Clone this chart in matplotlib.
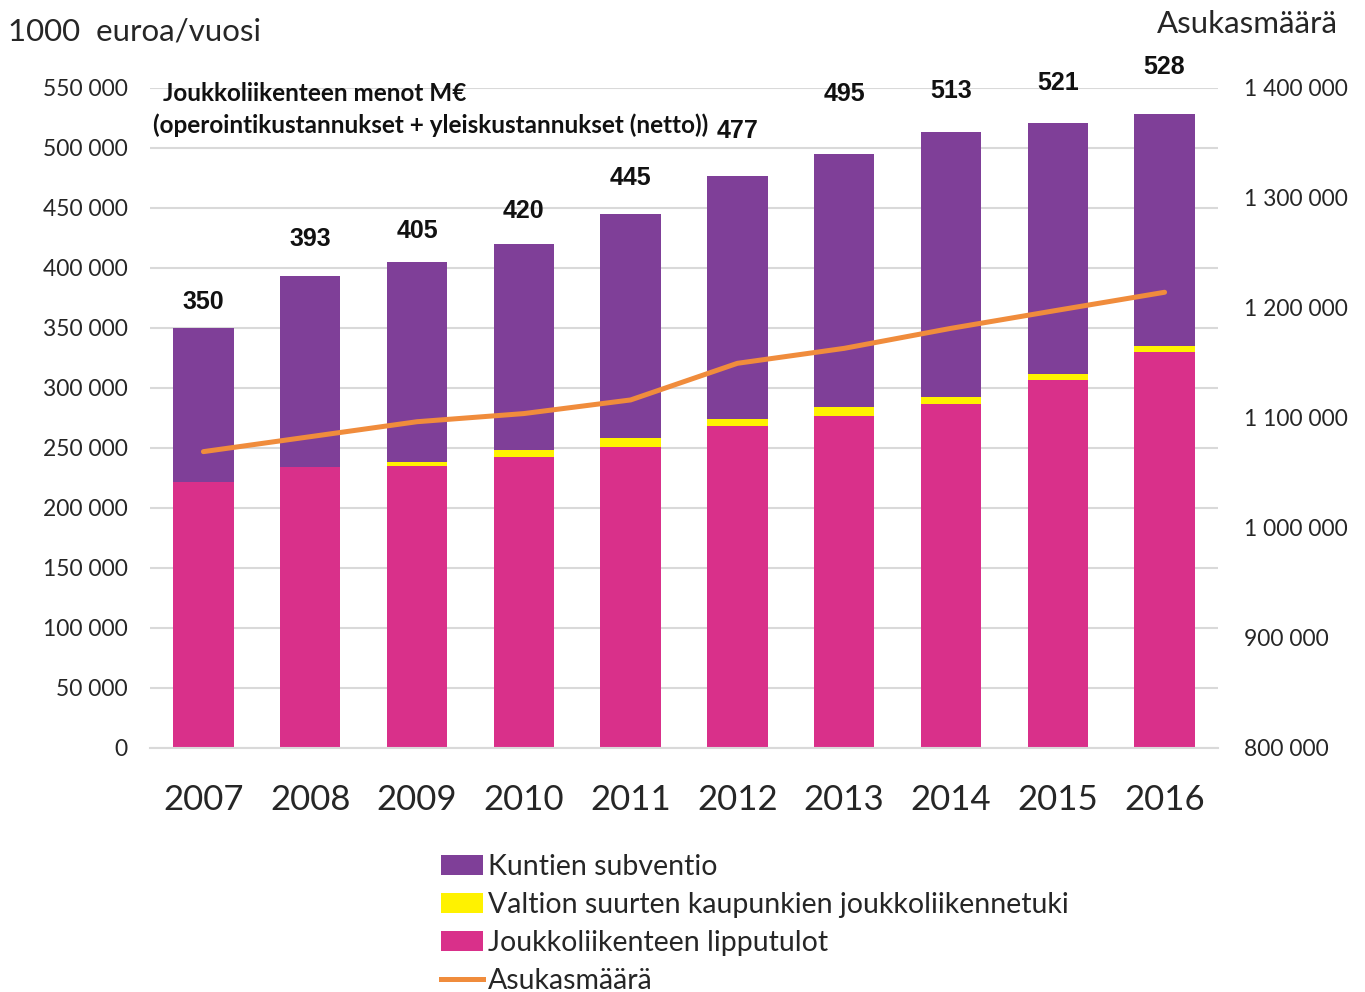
import numpy as np
import matplotlib
matplotlib.use("Agg")
import matplotlib.pyplot as plt
from matplotlib.patches import Patch
from matplotlib.lines import Line2D
from matplotlib.ticker import FuncFormatter

# Datos (1000 euroa/vuosi)
vuodet = ['2007', '2008', '2009', '2010', '2011', '2012', '2013', '2014', '2015', '2016']
yhteensa = [350, 393, 405, 420, 445, 477, 495, 513, 521, 528]
lipputulot = [222000, 234400, 235300, 242800, 251000, 268600, 276900, 286700, 306700, 330300]
valtion_tuki = [0, 0, 3300, 5500, 7000, 5600, 7000, 6100, 4700, 4700]
asukasmaara = [1069400, 1083000, 1096600, 1104000, 1116400, 1149700, 1163300, 1181500, 1198000, 1214300]

# label offsets above bar top, in points
label_dy = [19, 27, 22, 24, 26, 32, 43, 30, 29, 34]

kunnat = [t * 1000 - p - v for t, p, v in zip(yhteensa, lipputulot, valtion_tuki)]

PURPLE = '#7f3f98'
PINK = '#d9308a'
YELLOW = '#fff200'
ORANGE = '#f08c3c'
GRID = '#d9d9d9'
TXT = '#262626'

x = np.arange(len(vuodet))
w = 0.565

fig = plt.figure(figsize=(13.65, 9.92), dpi=100)
ax = fig.add_axes([0.1099, 0.2460, 0.7824, 0.6653])

ax.bar(x, lipputulot, w, color=PINK, zorder=2)
ax.bar(x, valtion_tuki, w, bottom=lipputulot, color=YELLOW, zorder=2)
ax.bar(x, kunnat, w, bottom=np.array(lipputulot) + np.array(valtion_tuki), color=PURPLE, zorder=2)

ax.set_xlim(-0.5, len(vuodet) - 0.5)
ax.set_ylim(0, 550000)
ax.set_yticks(np.arange(0, 550001, 50000))
ax.yaxis.set_major_formatter(FuncFormatter(lambda v, p: f'{int(v):,}'.replace(',', ' ')))
ax.grid(axis='y', color=GRID, linewidth=1.5)
ax.set_axisbelow(True)
for s in ax.spines.values():
    s.set_visible(False)
ax.spines['bottom'].set_visible(True)
ax.spines['bottom'].set_color(GRID)
ax.spines['bottom'].set_linewidth(1.5)
ax.set_xticks(x)
ax.set_xticklabels(vuodet, fontsize=25, family='Lato', color=TXT)
ax.tick_params(axis='x', length=0, pad=26)
ax.tick_params(axis='y', length=0, pad=16, labelsize=16.5, labelcolor=TXT)
for t in ax.get_yticklabels():
    t.set_family('Lato')

for i, tot in enumerate(yhteensa):
    ax.annotate(str(tot), (x[i], tot * 1000), xytext=(0, label_dy[i]), textcoords='offset points',
                ha='center', va='center', fontsize=18, fontweight='bold',
                family='Liberation Sans', color='#111111')

ax.text(0.012, 0.992, 'Joukkoliikenteen menot M€', transform=ax.transAxes,
        fontsize=17.5, fontweight='bold', family='Lato', va='center', ha='left', color='#111111')
ax.text(0.003, 0.944, '(operointikustannukset + yleiskustannukset (netto))', transform=ax.transAxes,
        fontsize=17.5, fontweight='bold', family='Lato', va='center', ha='left', color='#111111')

ax2 = ax.twinx()
ax2.plot(x, asukasmaara, color=ORANGE, linewidth=3.6, solid_capstyle='round', zorder=3)
ax2.set_ylim(800000, 1400000)
ax2.set_yticks(np.arange(800000, 1400001, 100000))
ax2.yaxis.set_major_formatter(FuncFormatter(lambda v, p: f'{int(v):,}'.replace(',', ' ')))
ax2.tick_params(axis='y', length=0, pad=19, labelsize=16.4, labelcolor=TXT)
for t in ax2.get_yticklabels():
    t.set_family('Lato')
for s in ax2.spines.values():
    s.set_visible(False)

fig.text(8 / 1365, 1 - 32 / 992, '1000  euroa/vuosi', fontsize=22.5, family='Lato',
         color=TXT, ha='left', va='center')
fig.text(1338 / 1365, 1 - 24 / 992, 'Asukasmäärä', fontsize=22.5, family='Lato',
         color=TXT, ha='right', va='center')

handles = [
    Patch(facecolor=PURPLE, label='Kuntien subventio'),
    Patch(facecolor=YELLOW, label='Valtion suurten kaupunkien joukkoliikennetuki'),
    Patch(facecolor=PINK, label='Joukkoliikenteen lipputulot'),
    Line2D([0], [0], color=ORANGE, linewidth=3.6, label='Asukasmäärä'),
]
leg = fig.legend(handles=handles, loc='upper left', bbox_to_anchor=(441 / 1365, 1 - 854 / 992),
                 frameon=False, handlelength=1.47, handletextpad=0.17,
                 labelspacing=0.42, borderaxespad=0, borderpad=0,
                 prop={'family': 'Lato', 'size': 20.5})
for t in leg.get_texts():
    t.set_color(TXT)

fig.savefig('out.png', dpi=100, facecolor='white')
